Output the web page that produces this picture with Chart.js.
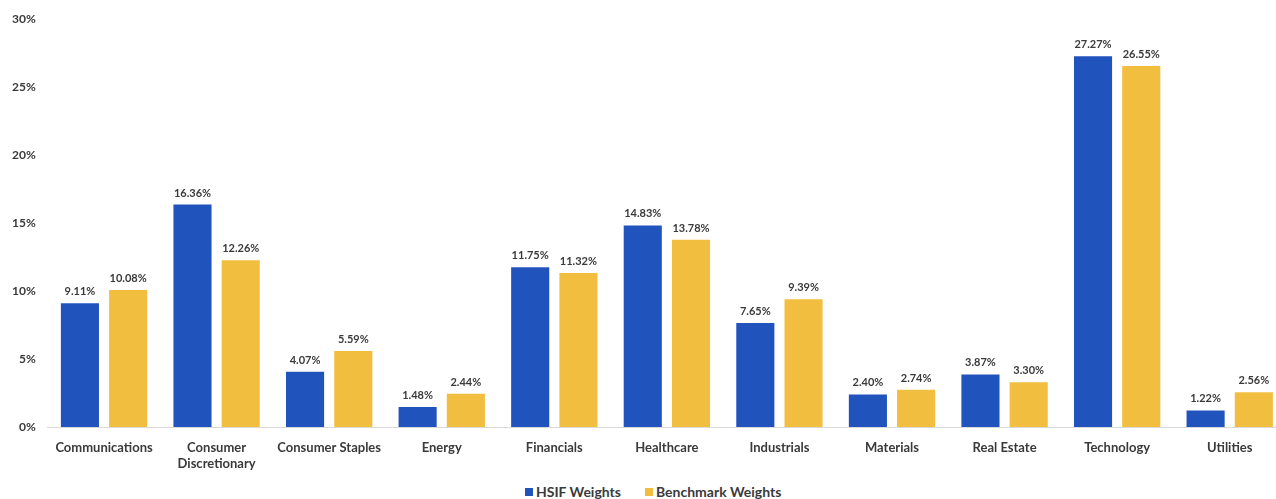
<!DOCTYPE html>
<html lang="en">
<head>
    <meta charset="UTF-8">
    <title>Sector Weights</title>
    <script src="https://cdn.jsdelivr.net/npm/chart.js"></script>
    <style>
        body { margin: 0; background: #fff; overflow: hidden; font-family: Lato, "Open Sans", sans-serif; }
        #wrap { width: 1286px; height: 476px; position: relative; }
        #legend { position: absolute; top: 485px; left: 525px; display: flex; align-items: center;
                  font-size: 14px; line-height: 14px; font-weight: bold; color: #3a3a3a; white-space: nowrap; }
        #legend span.box { display: inline-block; width: 8px; height: 8px; margin-right: 3px; }
        #legend span.item { display: inline-flex; align-items: center; margin-right: 24px; }
    </style>
</head>
<body>
    <div id="wrap"><canvas id="weights-chart"></canvas></div>
    <div id="legend"></div>
    <script>
    // sector names (array = wrapped label)
    const sectors = ['Communications', ['Consumer', 'Discretionary'], 'Consumer Staples', 'Energy',
        'Financials', 'Healthcare', 'Industrials', 'Materials', 'Real Estate', 'Technology', 'Utilities'];
    const hsifWeights = [9.11, 16.36, 4.07, 1.48, 11.75, 14.83, 7.65, 2.40, 3.87, 27.27, 1.22];
    const benchmarkWeights = [10.08, 12.26, 5.59, 2.44, 11.32, 13.78, 9.39, 2.74, 3.30, 26.55, 2.56];
    const yTicks = [0, 5, 10, 15, 20, 25, 30];

    const fontFamily = 'Lato, "Open Sans", sans-serif';

    // draws the % values above each bar
    const valueLabels = {
        id: 'valueLabels',
        afterDatasetsDraw(chart) {
            const c = chart.ctx;
            c.save();
            c.font = 'bold 11px ' + fontFamily;
            c.fillStyle = '#3a3a3a';
            c.textAlign = 'center';
            c.textBaseline = 'bottom';
            chart.data.datasets.forEach((ds, i) => {
                chart.getDatasetMeta(i).data.forEach((bar, j) => {
                    c.fillText(ds.data[j].toFixed(2) + '%', bar.x, bar.y - 6);
                });
            });
            c.restore();
        }
    };

    const ctx = document.getElementById('weights-chart').getContext('2d');
    const chart = new Chart(ctx, {
        type: 'bar',
        data: {
            labels: sectors,
            datasets: [
                {
                    label: 'HSIF Weights',
                    data: hsifWeights,
                    backgroundColor: '#2153BD'
                },
                {
                    label: 'Benchmark Weights',
                    data: benchmarkWeights,
                    backgroundColor: '#F2BE3F'
                }
            ]
        },
        plugins: [valueLabels],
        options: {
            responsive: true,
            maintainAspectRatio: false,
            animation: false,
            categoryPercentage: 0.857,
            barPercentage: 0.79,
            layout: { padding: { top: 17, left: 0, right: 0, bottom: 0 } },
            plugins: {
                tooltip: { enabled: false },
                legend: { display: false }
            },
            scales: {
                x: {
                    grid: { display: false, drawTicks: false },
                    border: { color: '#d9d9d9' },
                    afterFit: axis => { axis.height = 49; },
                    ticks: {
                        color: '#3a3a3a',
                        padding: 13,
                        maxRotation: 0,
                        autoSkip: false,
                        font: { family: fontFamily, size: 13, weight: 'bold' }
                    }
                },
                y: {
                    min: 0,
                    max: 30,
                    afterBuildTicks: axis => { axis.ticks = yTicks.map(v => ({ value: v })); },
                    grid: { display: false, drawTicks: false },
                    border: { display: false },
                    ticks: {
                        color: '#3a3a3a',
                        padding: 12,
                        callback: v => v + '%',
                        font: { family: fontFamily, size: 12, weight: 'bold' }
                    }
                }
            }
        }
    });

    // legend built from the datasets
    const legendEl = document.getElementById('legend');
    chart.data.datasets.forEach(ds => {
        const item = document.createElement('span');
        item.className = 'item';
        const box = document.createElement('span');
        box.className = 'box';
        box.style.background = ds.backgroundColor;
        item.appendChild(box);
        item.appendChild(document.createTextNode(ds.label));
        legendEl.appendChild(item);
    });
    </script>
</body>
</html>
